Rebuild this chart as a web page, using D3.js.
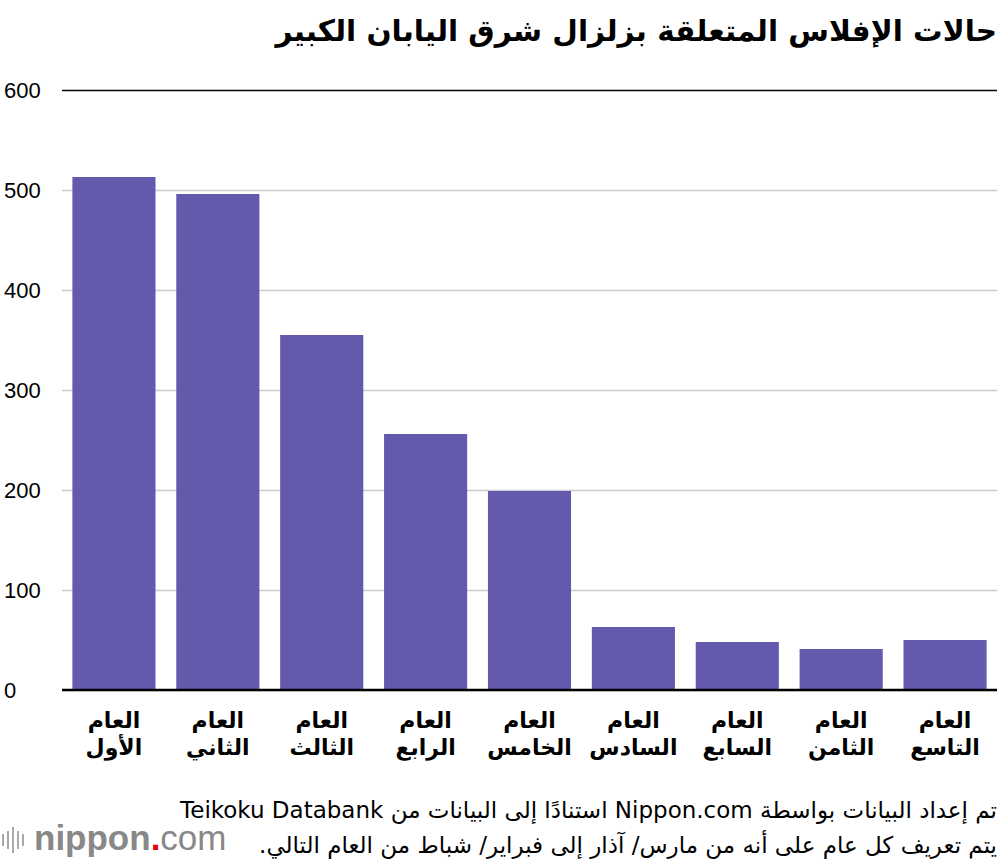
<!DOCTYPE html>
<html>
<head>
<meta charset="utf-8">
<script src="https://cdn.jsdelivr.net/npm/d3@7"></script>
<style>
  body { margin: 0; background: #fff; }
  svg { display: block; }
</style>
</head>
<body>
<div id="container"></div>
<script>
/* DATA */
const years = ["العام الأول", "العام الثاني", "العام الثالث", "العام الرابع", "العام الخامس",
  "العام السادس", "العام السابع", "العام الثامن", "العام التاسع"];
const cases = [513, 496, 355, 256, 199, 63, 48, 41, 50];
const yTicks = [0, 100, 200, 300, 400, 500, 600];

const titleText = "حالات الإفلاس المتعلقة بزلزال شرق اليابان الكبير";
const noteLines = [
  "تم إعداد البيانات بواسطة Nippon.com استنادًا إلى البيانات من Teikoku Databank",
  "يتم تعريف كل عام على أنه من مارس/ آذار إلى فبراير/ شباط من العام التالي."
];

/* CONSTANTS */
const width = 1000,
  height = 862,
  margin = { top: 90, bottom: 172, left: 62, right: 3 };

const svg = d3.select("#container")
  .append("svg")
  .attr("width", width)
  .attr("height", height);

/* SCALES */
const xScale = d3.scaleBand()
  .domain(years)
  .range([margin.left, width - margin.right])
  .paddingInner(0.2)
  .paddingOuter(0.1);

const yScale = d3.scaleLinear()
  .domain([0, 600])
  .range([height - margin.bottom, margin.top]);

// title (rtl: "start" is the right edge)
svg.append("text")
  .attr("x", 997)
  .attr("y", 41)
  .attr("direction", "rtl")
  .attr("text-anchor", "start")
  .style("font-family", "'DejaVu Sans', sans-serif")
  .style("font-weight", "bold")
  .style("font-size", "29.5px")
  .text(titleText);

// gridlines + y labels
const yAxis = d3.axisLeft(yScale)
  .tickValues(yTicks)
  .tickSize(-(width - margin.left - margin.right));

const gy = svg.append("g")
  .attr("transform", `translate(${margin.left},0)`)
  .call(yAxis);

gy.select(".domain").remove();
gy.selectAll(".tick line")
  .attr("stroke", d => d === 600 ? "#000" : "#ccc")
  .attr("stroke-width", 1.5);
gy.selectAll(".tick text")
  .attr("x", -58)
  .attr("text-anchor", "start")
  .style("font-family", "'Liberation Sans', Arial, sans-serif")
  .style("font-size", "22px")
  .attr("fill", "#000");

// bars
svg.selectAll(".bar")
  .data(cases)
  .join("rect")
  .attr("class", "bar")
  .attr("x", (d, i) => xScale(years[i]))
  .attr("y", d => yScale(d))
  .attr("width", xScale.bandwidth())
  .attr("height", d => yScale(0) - yScale(d))
  .attr("fill", "#6359ad");

// baseline
svg.append("line")
  .attr("x1", margin.left)
  .attr("x2", width - margin.right)
  .attr("y1", yScale(0))
  .attr("y2", yScale(0))
  .attr("stroke", "#000")
  .attr("stroke-width", 2.5);

// x labels (two lines)
const xl = svg.selectAll(".xlabel")
  .data(years)
  .join("text")
  .attr("class", "xlabel")
  .attr("text-anchor", "middle")
  .style("font-family", "'DejaVu Sans', sans-serif")
  .style("font-weight", "bold")
  .style("font-size", "22px");

xl.each(function(d) {
  const parts = d.split(" ");
  const cx = xScale(d) + xScale.bandwidth() / 2;
  d3.select(this).selectAll("tspan")
    .data(parts)
    .join("tspan")
    .attr("x", cx)
    .attr("y", (p, j) => 728 + j * 27)
    .text(p => p);
});

// notes
svg.selectAll(".note")
  .data(noteLines)
  .join("text")
  .attr("class", "note")
  .attr("x", 997)
  .attr("y", (d, i) => 818 + i * 35)
  .attr("direction", "rtl")
  .attr("text-anchor", "start")
  .style("font-family", "'DejaVu Sans', sans-serif")
  .style("font-size", "23px")
  .text(d => d);

// logo
const logo = svg.append("g").attr("transform", "translate(0,850)");
[0, 5, 10, 15, 20].forEach((x, i) => {
  const h = [12, 18, 26, 18, 12][i];
  logo.append("rect")
    .attr("x", x + 2)
    .attr("y", -h / 2 - 10)
    .attr("width", 2)
    .attr("height", h)
    .attr("fill", "#aaa");
});
const lt = logo.append("text")
  .attr("x", 34)
  .attr("y", 0)
  .style("font-family", "'Liberation Sans', Arial, sans-serif")
  .style("font-size", "35px")
  .attr("fill", "#888");
lt.append("tspan").style("font-weight", "bold").text("nippon");
lt.append("tspan").attr("fill", "#e60012").style("font-weight", "bold").text(".");
lt.append("tspan").style("font-weight", "normal").text("com");
</script>
</body>
</html>
